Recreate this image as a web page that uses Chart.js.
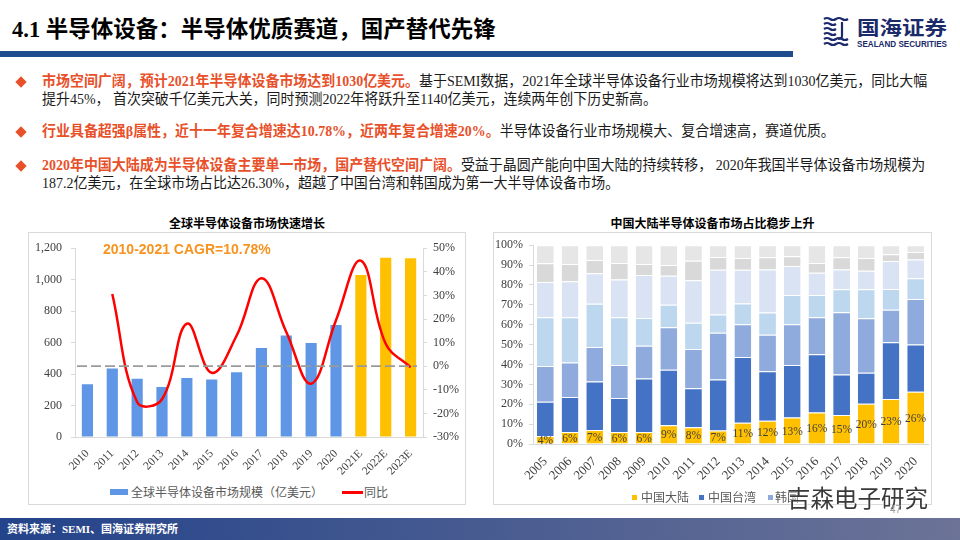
<!DOCTYPE html>
<html lang="zh">
<head>
<meta charset="utf-8">
<script src="https://cdn.jsdelivr.net/npm/chart.js@4.4.1/dist/chart.umd.min.js"></script>
<style>
    body { margin: 0; width: 960px; height: 540px; overflow: hidden; background: #fff; position: relative;
        font-family: "Liberation Serif", "Noto Sans CJK SC", serif; }
    .abs { position: absolute; }
    .page-title { left: 12px; top: 15px; font-size: 22.5px; line-height: 30px; font-weight: bold; color: #000; white-space: nowrap; }
    .top-line { left: 0; top: 51px; width: 793px; height: 6px; background: #1E4C8F; }
    .bullet { left: 42px; font-size: 14.5px; line-height: 17.6px; color: #1a1a1a; white-space: nowrap;
        transform: scaleX(0.963); transform-origin: left top; }
    .bullet b { color: #E8502A; }
    .dia { width: 8px; height: 8px; background: #E8502A; transform: rotate(45deg); }
    .chart-title { font-family: "Noto Sans CJK SC"; font-weight: bold; font-size: 12px; line-height: 16px; text-align: center; color: #000; }
    .box { border: 1px solid #D9D9D9; box-sizing: border-box; }
    .legend { font-family: "Noto Sans CJK SC"; font-size: 12px; line-height: 16px; color: #595959; white-space: nowrap; }
    .footer { left: 0; top: 518px; width: 960px; height: 22px; background: linear-gradient(90deg, #23438A, #6C7397); }
    .footer span { position: absolute; left: 7px; top: 0; line-height: 22px; font-size: 11px; font-weight: bold; color: #fff; }
</style>
</head>
<body>

<div class="abs page-title">4.1 半导体设备：半导体优质赛道，国产替代先锋</div>
<div class="abs top-line"></div>

<svg class="abs" style="left:821px;top:16px" width="28" height="32" viewBox="0 0 28 32">
    <g fill="none" stroke="#1B2A6B" stroke-width="2.2">
        <path d="M3 3 q3 -2 6 0 t6 0 t6 0 t6 0"/>
        <path d="M3 8 q3 -2 6 0 t6 0"/>
        <path d="M3 13 q3 -2 6 0 t6 0"/>
        <path d="M3 18 q3 -2 6 0 t6 0"/>
        <path d="M3 23 q3 -2 6 0 t6 0 t6 0 t6 0"/>
        <path d="M3 28 q3 -2 6 0 t6 0 t6 0 t6 0"/>
        <path d="M21 6 v14 q0 3 -4 3"/>
    </g>
</svg>
<svg class="abs" style="left:856px;top:14px" width="96" height="40">
    <text x="1" y="21" textLength="90" lengthAdjust="spacingAndGlyphs" font-family="Noto Sans CJK SC" font-weight="bold" font-size="19" fill="#1B2A6B">国海证券</text>
    <text x="1" y="33" textLength="90" lengthAdjust="spacingAndGlyphs" font-family="Liberation Sans" font-weight="bold" font-size="8.5" fill="#1B2A6B">SEALAND SECURITIES</text>
</svg>

<div class="abs dia" style="left:17px;top:78px"></div>
<div class="abs bullet" style="top:73px"><b>市场空间广阔，预计2021年半导体设备市场达到1030亿美元。</b>基于SEMI数据，2021年全球半导体设备行业市场规模将达到1030亿美元，同比大幅<br>提升45%， 首次突破千亿美元大关，同时预测2022年将跃升至1140亿美元，连续两年创下历史新高。</div>
<div class="abs dia" style="left:17px;top:128px"></div>
<div class="abs bullet" style="top:123px"><b>行业具备超强β属性，近十一年复合增速达10.78%，近两年复合增速20%。</b>半导体设备行业市场规模大、复合增速高，赛道优质。</div>
<div class="abs dia" style="left:17px;top:162px"></div>
<div class="abs bullet" style="top:157px"><b>2020年中国大陆成为半导体设备主要单一市场，国产替代空间广阔。</b>受益于晶圆产能向中国大陆的持续转移， 2020年我国半导体设备市场规模为<br>187.2亿美元，在全球市场占比达26.30%，超越了中国台湾和韩国成为第一大半导体设备市场。</div>

<!-- left chart -->
<div class="abs chart-title" style="left:28px;top:215px;width:438px">全球半导体设备市场快速增长</div>
<div class="abs box" style="left:28px;top:232px;width:438px;height:273px"></div>
<canvas id="globalChart" class="abs" style="left:28px;top:232px" width="438" height="250"></canvas>
<div class="abs" style="left:103px;top:240px;font-family:'Liberation Sans';font-weight:bold;font-size:14px;line-height:18px;color:#F7931E;white-space:nowrap">2010-2021 CAGR=10.78%</div>
<div class="abs" style="left:110px;top:489px;width:18px;height:6px;background:#5F97E6"></div>
<div class="abs legend" style="left:131px;top:484px">全球半导体设备市场规模（亿美元）</div>
<div class="abs" style="left:342px;top:491px;width:21px;height:2.5px;background:#FF0000"></div>
<div class="abs legend" style="left:364px;top:484px">同比</div>

<!-- right chart -->
<div class="abs chart-title" style="left:493px;top:215px;width:439px">中国大陆半导体设备市场占比稳步上升</div>
<div class="abs box" style="left:493px;top:232px;width:439px;height:273px"></div>
<canvas id="regionChart" class="abs" style="left:493px;top:232px" width="439" height="255"></canvas>
<div class="abs" style="left:632px;top:495px;width:5px;height:5px;background:#FFC000"></div>
<div class="abs legend" style="left:641px;top:489px">中国大陆</div>
<div class="abs" style="left:699px;top:495px;width:5px;height:5px;background:#4472C4"></div>
<div class="abs legend" style="left:708px;top:489px">中国台湾</div>
<div class="abs" style="left:768px;top:495px;width:5px;height:5px;background:#8FAADC"></div>
<div class="abs legend" style="left:775px;top:489px">韩国</div>

<div class="abs" style="left:787px;top:481px;font-family:'Noto Sans CJK SC';font-size:23.5px;line-height:32px;color:#3a3a3a;white-space:nowrap;text-shadow:0 0 2px #fff,0 0 2px #fff">吉森电子研究</div>
<div class="abs" style="left:890px;top:504px;font-family:'Liberation Sans';font-size:10px;color:#9a9a9a">47</div>

<div class="abs footer"><span>资料来源：SEMI、国海证券研究所</span></div>

<script>
// ---- global equipment market (left) ----
const yearsGlobal = ['2010', '2011', '2012', '2013', '2014', '2015', '2016', '2017', '2018', '2019', '2020', '2021E', '2022E', '2023E'];
const marketSize = [336, 435, 370, 318, 375, 365, 412, 566, 645, 598, 712, 1030, 1140, 1136];   // 亿美元
const yoyGrowth = [null, 30.6, -15.2, -14.0, 18.0, -2.8, 12.9, 37.3, 14.5, -7.4, 19.5, 44.7, 9.5, -0.5]; // %

// ---- regional share (right), % of each year, bottom to top ----
const yearsRegion = ['2005', '2006', '2007', '2008', '2009', '2010', '2011', '2012', '2013', '2014', '2015', '2016', '2017', '2018', '2019', '2020'];
const shareMainland = [4, 6, 7, 6, 6, 9.4, 8.4, 6.8, 10.7, 11.7, 13.3, 15.8, 14.6, 20.3, 22.6, 26.3];
const shareTaiwan = [17.3, 17.7, 24.5, 17.1, 27, 28, 19.6, 25.7, 33, 24.9, 26.5, 29.4, 20.4, 15.6, 28.6, 23.8];
const shareKorea = [17.9, 17.3, 17.3, 16.7, 16.4, 21.3, 19.8, 23.4, 16.5, 18.4, 20.4, 18.5, 31.3, 27.4, 16.3, 22.9];
const shareJapan = [24.5, 22.7, 21.8, 23.9, 14, 11.4, 13.2, 9.3, 10.5, 11.2, 14.8, 11.3, 11.6, 14.6, 10.5, 10.4];
const shareNorthAmerica = [17.8, 18.2, 15.3, 19.1, 21.6, 14.5, 21.4, 22.4, 16.9, 21.6, 14.6, 11.2, 9.9, 9.3, 14, 9.4];
const shareEurope = [9.4, 8.7, 6.6, 8.3, 5.6, 5.5, 9.8, 6.5, 5.9, 6.2, 4.9, 4.9, 6.2, 6.3, 3.4, 3.8];
const shareOther = [9.1, 9.4, 7.5, 8.9, 9.4, 9.9, 7.8, 5.9, 6.5, 6.0, 5.5, 8.9, 6.0, 6.5, 4.6, 3.4];
const regionNames = ['中国大陆', '中国台湾', '韩国', '日本', '北美', '欧洲', '其他地区'];

Chart.defaults.font.family = '"Liberation Serif", "Noto Sans CJK SC", serif';
Chart.defaults.font.size = 12;
Chart.defaults.color = '#404040';

// dashed 0% reference line across the plot
const zeroLine = {
    id: 'zeroLine',
    afterDatasetsDraw(chart) {
        const ctx = chart.ctx;
        const area = chart.chartArea;
        const y = chart.scales.y1.getPixelForValue(0);
        ctx.save();
        ctx.strokeStyle = '#9A9A9A';
        ctx.lineWidth = 1.75;
        ctx.setLineDash([10, 4]);
        ctx.beginPath();
        ctx.moveTo(area.left + 2, y);
        ctx.lineTo(area.right - 6, y);
        ctx.stroke();
        ctx.restore();
    }
};

// percentage labels on the mainland segment
const shareLabels = {
    id: 'shareLabels',
    afterDatasetsDraw(chart) {
        const ctx = chart.ctx;
        const meta = chart.getDatasetMeta(0);
        const values = chart.data.datasets[0].data;
        ctx.save();
        ctx.font = '11.5px "Liberation Serif"';
        ctx.fillStyle = '#404040';
        ctx.textAlign = 'center';
        ctx.textBaseline = 'middle';
        meta.data.forEach((bar, i) => {
            ctx.fillText(Math.round(values[i]) + '%', bar.x, (bar.y + bar.base) / 2 + 1);
        });
        ctx.restore();
    }
};

const sideGrid = { drawOnChartArea: false, tickLength: 4, color: '#D9D9D9' };

new Chart(document.getElementById('globalChart'), {
    type: 'bar',
    data: {
        labels: yearsGlobal,
        datasets: [{
            type: 'line',
            label: '同比',
            data: yoyGrowth,
            yAxisID: 'y1',
            borderColor: '#FF0000',
            borderWidth: 2.5,
            pointRadius: 0,
            tension: 0.4,
            order: 0
        }, {
            type: 'bar',
            label: '全球半导体设备市场规模（亿美元）',
            data: marketSize,
            yAxisID: 'y',
            backgroundColor: yearsGlobal.map(y => y.endsWith('E') ? '#FFC000' : '#5F97E6'),
            barPercentage: 0.45,
            categoryPercentage: 1,
            order: 1
        }]
    },
    options: {
        responsive: false,
        animation: false,
        layout: { padding: { top: 12 } },
        plugins: { legend: { display: false }, tooltip: { enabled: false } },
        scales: {
            x: {
                grid: { display: false },
                border: { color: '#D9D9D9' },
                ticks: { minRotation: 45, maxRotation: 45, autoSkip: false, padding: 2, font: { size: 11.5 } },
                afterFit: s => { s.height = 45; }
            },
            y: {
                position: 'left',
                min: 0,
                max: 1200,
                ticks: { stepSize: 200, padding: 9, callback: v => v.toLocaleString('en-US') },
                grid: sideGrid,
                border: { color: '#D9D9D9' },
                afterFit: s => { s.width = 47; }
            },
            y1: {
                position: 'right',
                min: -30,
                max: 50,
                ticks: { stepSize: 10, padding: 6, callback: v => v + '%' },
                grid: sideGrid,
                border: { color: '#D9D9D9' },
                afterFit: s => { s.width = 43; }
            }
        }
    },
    plugins: [zeroLine]
});

const regionData = [shareMainland, shareTaiwan, shareKorea, shareJapan, shareNorthAmerica, shareEurope, shareOther];
const regionColors = ['#FFC000', '#4472C4', '#8FAADC', '#BDD7EE', '#DAE3F3', '#D9D9D9', '#E7E6E6'];

new Chart(document.getElementById('regionChart'), {
    type: 'bar',
    data: {
        labels: yearsRegion,
        datasets: regionNames.map((name, i) => ({
            label: name,
            data: regionData[i],
            backgroundColor: regionColors[i],
            borderColor: 'rgba(255,255,255,0.7)',
            borderWidth: { top: 1, left: 0, right: 0, bottom: 0 },
            borderSkipped: false,
            barPercentage: 0.68,
            categoryPercentage: 1
        }))
    },
    options: {
        responsive: false,
        animation: false,
        layout: { padding: { top: 7, right: 4 } },
        plugins: { legend: { display: false }, tooltip: { enabled: false } },
        scales: {
            x: {
                stacked: true,
                grid: { display: false },
                border: { color: '#D9D9D9' },
                ticks: { minRotation: 45, maxRotation: 45, autoSkip: false, padding: 2, font: { size: 13 } },
                afterFit: s => { s.height = 43; }
            },
            y: {
                stacked: true,
                min: 0,
                max: 100,
                ticks: { stepSize: 10, padding: 6, callback: v => v + '%' },
                grid: sideGrid,
                border: { color: '#D9D9D9' },
                afterFit: s => { s.width = 40; }
            }
        }
    },
    plugins: [shareLabels]
});
</script>
</body>
</html>
